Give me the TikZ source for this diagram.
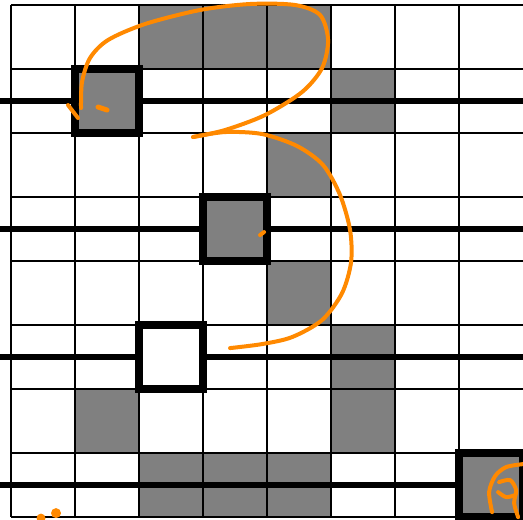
\documentclass[tikz,border=0pt]{standalone}
\usepackage{tikz}
\definecolor{inkorange}{RGB}{255,137,0}
\begin{document}
\begin{tikzpicture}[x=1.28cm, y=-1.28cm,
  gridline/.style={line width=0.04cm},
  rowline/.style={line width=0.11cm},
  thickbox/.style={line width=0.16cm},
  ink/.style={draw=inkorange, line width=0.08cm, line cap=round, line join=round}]
  \useasboundingbox (-0.171875,-0.078125) rectangle (8,8.03125);
  \clip (-0.171875,-0.078125) rectangle (8,8.03125);
  % grey cells
  \foreach \c/\r in {2/0,3/0,4/0,5/1,4/2,4/4,5/5,1/6,5/6,2/7,3/7,4/7}
    \fill[gray] (\c,\r) rectangle ++(1,1);
  % grid
  \foreach \i in {0,...,8}
    \draw[gridline] (0,\i) -- (8,\i);
  \foreach \i in {0,...,7}
    \draw[gridline] (\i,0) -- (\i,8);
  % thick rows
  \foreach \r in {1.5,3.5,5.5,7.5}
    \draw[rowline] (-0.2,\r) -- (8,\r);
  % boxes
  \foreach \c/\r/\f in {1/1/gray,3/3/gray,2/5/white,7/7/gray}
    \draw[thickbox,fill=\f] (\c,\r) rectangle ++(1,1);
  % freehand strokes (pixel units)
  \begin{scope}[x=0.02cm, y=-0.02cm, shift={(-11,-5)}]
    \draw[ink] plot[smooth] coordinates {(81,108) (82,82) (90,58) (108,40)
      (145,24) (200,10) (250,4) (295,5) (320,15) (328,40) (322,68) (302,92)
      (265,115) (225,130) (193,137)};
    \draw[ink] plot[smooth] coordinates {(193,137) (225,132) (262,134)
      (297,146) (323,165) (340,195) (350,230) (351,262) (342,293) (322,320)
      (292,337) (262,344) (230,348)};
    \draw[ink] (68,105) -- (78,118);
    \draw[ink, line width=0.1cm] (98,107) -- (107,110);
    \draw[ink] (260,235) -- (264,232);
    \fill[inkorange] (41,518) circle (4.5);
    \fill[inkorange] (56,513) circle (5);
    % bottom right scribble
    \draw[ink] plot[smooth] coordinates {(492,512) (489,492) (495,476)
      (506,467) (523,464)};
    \draw[ink] plot[smooth] coordinates {(499,482) (510,480) (516,490)
      (514,503) (518,517)};
    \draw[ink] plot[smooth] coordinates {(498,492) (506,497) (515,495)};
  \end{scope}
\end{tikzpicture}
\end{document}
